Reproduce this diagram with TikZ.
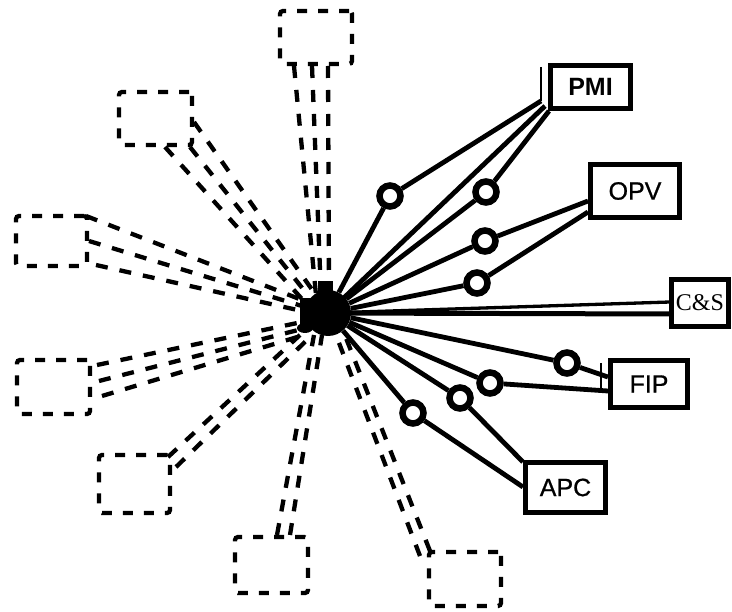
\documentclass[tikz,border=0pt]{standalone}
\usepackage{fontspec}
\setmainfont{Liberation Sans}
\newfontfamily\serifC{Liberation Serif}
\newfontfamily\labfont[FakeBold=0.8]{Liberation Sans}
\begin{document}
\begin{tikzpicture}[x=1pt,y=-1pt,
  sbox/.style={draw,line width=4.8pt,rectangle,inner sep=0pt,font=\labfont\fontsize{25}{25}\selectfont},
  dbox/.style={draw,line width=4.3pt,dash pattern=on 10pt off 11pt,rounded corners=3pt,rectangle,inner sep=0pt},
  dline/.style={line width=4.3pt,dash pattern=on 12pt off 12pt},
  sline/.style={line width=4.8pt},
  ring/.style={circle,draw,line width=6.5pt,minimum size=21pt,inner sep=0pt},
  hubst/.style={circle,fill=black,minimum size=46pt,inner sep=0pt},
  hairline/.style={line width=1.6pt}]
\useasboundingbox (0,0) rectangle (732,612);

% dashed boxes
\node[dbox,minimum width=72pt,minimum height=53pt] (tb) at (316,37.5) {};
\node[dbox,minimum width=73pt,minimum height=53pt] (ul) at (155.5,118.5) {};
\node[dbox,minimum width=71pt,minimum height=50pt] (lb) at (51.5,241) {};
\node[dbox,minimum width=73pt,minimum height=54pt] (ll) at (53.5,387) {};
\node[dbox,minimum width=71pt,minimum height=58pt] (lo) at (134.5,484) {};
\node[dbox,minimum width=73pt,minimum height=56pt] (bo) at (271.5,565) {};
\node[dbox,minimum width=72pt,minimum height=54pt] (br) at (465,579) {};

% dashed connector ends
\coordinate (tb1) at (294,66);  \coordinate (h1) at (316,295);
\coordinate (tb2) at (312,66);  \coordinate (h2) at (321,295);
\coordinate (tb3) at (328,66);  \coordinate (h3) at (329,293);
\coordinate (ul1) at (165,147); \coordinate (h4) at (302,299);
\coordinate (ul2) at (190,147); \coordinate (h5) at (307,294);
\coordinate (ul3) at (194,122); \coordinate (h6) at (313,291);
\coordinate (lb1) at (86,216);  \coordinate (h7) at (302,300);
\coordinate (lb2) at (89,241);  \coordinate (h8) at (302,306);
\coordinate (lb3) at (96,265);  \coordinate (h9) at (302,311);
\coordinate (ll1) at (97,365);  \coordinate (h10) at (302,322);
\coordinate (ll2) at (99,381);  \coordinate (h11) at (302,329);
\coordinate (ll3) at (102,396); \coordinate (h12) at (304,335);
\coordinate (lo1) at (168,457); \coordinate (h13) at (300,335);
\coordinate (lo2) at (176,467); \coordinate (h14) at (307,340);
\coordinate (bo1) at (277,535); \coordinate (h15) at (314,335);
\coordinate (bo2) at (290,535); \coordinate (h16) at (322,335);
\coordinate (br1) at (420,556); \coordinate (h17) at (336,335);
\coordinate (br2) at (430,551); \coordinate (h18) at (344,333);

\foreach \a/\b in {tb1/h1,tb2/h2,tb3/h3,ul1/h4,ul2/h5,ul3/h6,lb1/h7,lb2/h8,lb3/h9,
  ll1/h10,ll2/h11,ll3/h12,lo1/h13,lo2/h14,bo1/h15,bo2/h16,br1/h17,br2/h18}
  \draw[dline] (\a) -- (\b);

% solid boxes
\node[sbox,font=\fontsize{25}{25}\selectfont\bfseries,minimum width=80pt,minimum height=43pt] (pmi) at (590.5,87) {PMI};
\node[sbox,minimum width=89pt,minimum height=53pt] (opv) at (635,191) {OPV};
\node[sbox,font=\serifC\fontsize{24}{24}\selectfont,minimum width=57pt,minimum height=47pt] (cs) at (700,303) {C\&S};
\node[sbox,minimum width=77pt,minimum height=47pt] (fip) at (649,384) {FIP};
\node[sbox,minimum width=80pt,minimum height=50pt] (apc) at (565.5,487.5) {APC};

% hub
\node[hubst] (hub) at (328,313) {};
\fill (318,281) rectangle (333,300);
\fill (300,298) rectangle (312,324);
\fill (305,328) ellipse (8pt and 5pt);

% rings
\node[ring] (c1) at (390,196) {};
\node[ring] (c2) at (486,192) {};
\node[ring] (c3) at (485,241) {};
\node[ring] (c4) at (477,283) {};
\node[ring] (c5) at (567,363) {};
\node[ring] (c6) at (490,383) {};
\node[ring] (c7) at (460,398) {};
\node[ring] (c8) at (413,413) {};

% box attachment points
\coordinate (p1) at (541,101);
\coordinate (p2) at (545,106);
\coordinate (p3) at (549,111);
\coordinate (o1) at (588,201);
\coordinate (o2) at (588,212);
\coordinate (s1) at (670,302);
\coordinate (s2) at (670,314);
\coordinate (f1) at (608,377);
\coordinate (f2) at (608,391);
\coordinate (a1) at (523,462);
\coordinate (a2) at (523,487);

% solid connectors
\draw[sline] (hub) -- (c1) -- (p1);
\draw[sline] (hub.center) -- (p2);
\draw[sline] (hub) -- (c2) -- (p3);
\draw[sline] (hub) -- (c3) -- (o1);
\draw[sline] (hub) -- (c4) -- (o2);
\draw[line width=3.3pt] (hub.center) -- (s1);
\draw[line width=5pt] (hub.center) -- (s2);
\draw[sline] (hub) -- (c5) -- (f1);
\draw[sline] (hub) -- (c6) -- (f2);
\draw[sline] (hub) -- (c7) -- (a1);
\draw[sline] (hub) -- (c8) -- (a2);

% thin ticks
\coordinate (t1) at (541,67);
\coordinate (t2) at (601,363);
\coordinate (t3) at (601,390);
\draw[hairline] (t1) -- (p1);
\draw[hairline] (t2) -- (t3);
\end{tikzpicture}
\end{document}
